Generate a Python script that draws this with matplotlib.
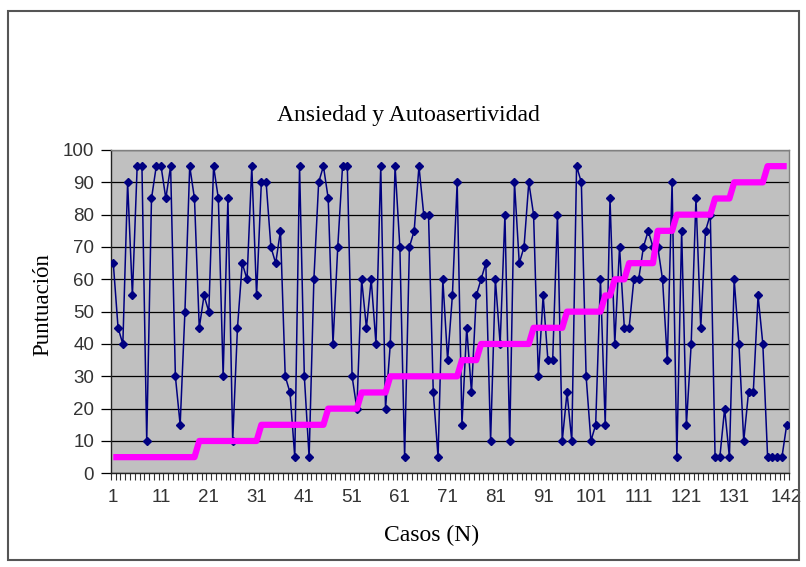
import numpy as np
import matplotlib
matplotlib.use("Agg")
import matplotlib.pyplot as plt
from matplotlib.patches import Rectangle

# Puntuaciones por caso (serie azul)
ansiedad = [65, 45, 40, 90, 55, 95, 95, 10, 85, 95,
            95, 85, 95, 30, 15, 50, 95, 85, 45, 55,
            50, 95, 85, 30, 85, 10, 45, 65, 60, 95,
            55, 90, 90, 70, 65, 75, 30, 25, 5, 95,
            30, 5, 60, 90, 95, 85, 40, 70, 95, 95,
            30, 20, 60, 45, 60, 40, 95, 20, 40, 95,
            70, 5, 70, 75, 95, 80, 80, 25, 5, 60,
            35, 55, 90, 15, 45, 25, 55, 60, 65, 10,
            60, 40, 80, 10, 90, 65, 70, 90, 80, 30,
            55, 35, 35, 80, 10, 25, 10, 95, 90, 30,
            10, 15, 60, 15, 85, 40, 70, 45, 45, 60,
            60, 70, 75, 70, 70, 60, 35, 90, 5, 75,
            15, 40, 85, 45, 75, 80, 5, 5, 20, 5,
            60, 40, 10, 25, 25, 55, 40, 5, 5, 5,
            5, 15]

# Serie ordenada (magenta): nivel y numero de casos
niveles = [5, 10, 15, 20, 25, 30, 35, 40, 45, 50, 55, 60, 65, 75, 80, 85, 90, 95]
frecuencias = [18, 13, 14, 7, 6, 15, 4, 11, 7, 8, 2, 3, 6, 4, 8, 4, 7, 5]
autoasertividad = np.repeat(niveles, frecuencias)

casos = np.arange(1, len(ansiedad) + 1)
etiquetas_x = [1, 11, 21, 31, 41, 51, 61, 71, 81, 91, 101, 111, 121, 131, 142]

W, H = 806, 567
fig = plt.figure(figsize=(W / 100, H / 100), dpi=100)
fig.patch.set_facecolor("white")

# borde exterior del grafico
fig.add_artist(Rectangle((8 / W, 1 - 560 / H), (799 - 8) / W, (560 - 11) / H,
                         transform=fig.transFigure, fill=False,
                         edgecolor="#555555", linewidth=1.5))

ax = fig.add_axes([110.9 / W, 1 - 473.3 / H, (789.1 - 110.9) / W, (473.3 - 150) / H])
ax.set_facecolor("#C0C0C0")

ax.plot(casos, ansiedad, color="#000080", linewidth=1.1, marker="D",
        markersize=3.6, markerfacecolor="#000080", markeredgecolor="#000080", zorder=3)
ax.plot(casos, autoasertividad, color="#FF00FF", linewidth=4.5, zorder=4,
        solid_capstyle="butt")

ax.set_xlim(0.5, len(casos) + 0.5)
ax.set_ylim(0, 100)
ax.set_yticks(range(0, 101, 10))
ax.yaxis.grid(True, color="black", linewidth=0.9)
ax.set_axisbelow(True)

ax.set_xticks(etiquetas_x)
ax.set_xticklabels([str(e) for e in etiquetas_x])
ax.set_xticks(np.arange(0.5, len(casos) + 1, 1), minor=True)
ax.tick_params(axis="x", which="major", length=0, pad=11, labelsize=13.5,
               labelcolor="#333333")
ax.tick_params(axis="x", which="minor", length=5, width=0.8, direction="out",
               color="#333333")
ax.tick_params(axis="y", length=7, width=0.9, direction="out", pad=5,
               labelsize=13.5, labelcolor="#333333")
for lab in ax.get_xticklabels() + ax.get_yticklabels():
    lab.set_fontfamily("Liberation Sans")

for s in ["left", "bottom"]:
    ax.spines[s].set_color("#222222")
    ax.spines[s].set_linewidth(1.0)
for s in ["top", "right"]:
    ax.spines[s].set_color("#808080")
    ax.spines[s].set_linewidth(1.0)

fig.text(408 / W, 1 - 115 / H, "Ansiedad y Autoasertividad", ha="center", va="center",
         fontsize=17, family="Liberation Serif")
fig.text(432 / W, 1 - 535 / H, "Casos (N)", ha="center", va="center",
         fontsize=17, family="Liberation Serif")
fig.text(43 / W, 1 - 305 / H, "Puntuación", ha="center", va="center", rotation=90,
         fontsize=16.5, family="Liberation Serif")

fig.savefig("out.png", dpi=100)
